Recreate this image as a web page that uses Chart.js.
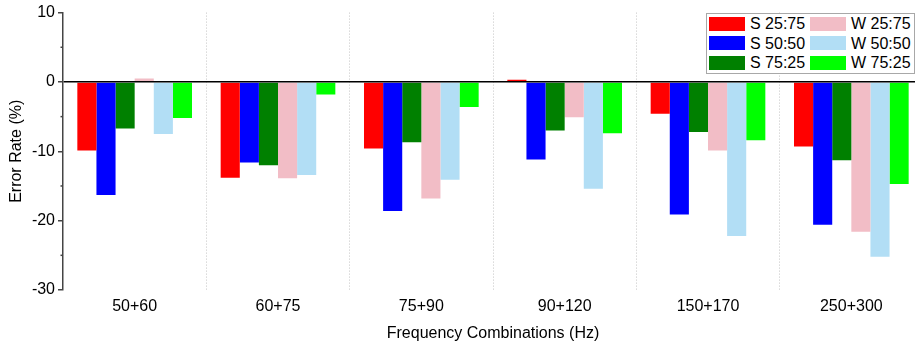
<!DOCTYPE html>
<html>
<head>
<meta charset="utf-8">
<script src="https://cdn.jsdelivr.net/npm/chart.js@4.4.1/dist/chart.umd.min.js"></script>
<style>
  body { margin: 0; overflow: hidden; background: #fff; }
  #wrap { position: relative; width: 925px; height: 342px; }
  #legend {
    position: absolute; left: 706px; top: 13px; width: 207px;
    border: 1px solid #a8a8a8; background: #fff;
    display: grid; grid-template-columns: 101px 1fr;
    font: 16px "Liberation Sans", Arial, sans-serif; color: #000;
  }
  #legend .item { height: 19.5px; line-height: 19.5px; display: flex; align-items: center; padding-left: 2px; }
  #legend .sw { width: 36px; height: 14px; margin-right: 5px; flex: none; }
</style>
</head>
<body>
<div id="wrap">
  <canvas id="chart"></canvas>
  <div id="legend"></div>
</div>
<script>
// data
const categories = ["50+60", "60+75", "75+90", "90+120", "150+170", "250+300"];
const seriesNames = ["S 25:75", "S 50:50", "S 75:25", "W 25:75", "W 50:50", "W 75:25"];
const s2575 = [-9.9, -13.8, -9.6, 0.3, -4.6, -9.3];
const s5050 = [-16.3, -11.6, -18.6, -11.2, -19.1, -20.6];
const s7525 = [-6.7, -12.0, -8.7, -7.0, -7.2, -11.3];
const w2575 = [0.5, -13.9, -16.8, -5.1, -9.9, -21.6];
const w5050 = [-7.5, -13.4, -14.1, -15.4, -22.2, -25.2];
const w7525 = [-5.2, -1.8, -3.6, -7.4, -8.4, -14.7];
const yMin = -30, yMax = 10, yStep = 10;

const seriesValues = [s2575, s5050, s7525, w2575, w5050, w7525];
const seriesColors = ["#ff0000", "#0000ff", "#008000", "#f2bdc6", "#b2def5", "#00ff00"];
const FONT = { family: '"Liberation Sans", Arial, sans-serif', size: 16 };

// short ticks halfway between the labelled ones
const minorTicks = {
  id: "minorTicks",
  afterDraw(chart) {
    const y = chart.scales.y;
    const ctx = chart.ctx;
    ctx.save();
    ctx.strokeStyle = "#444";
    ctx.lineWidth = 1.5;
    for (let v = yMin + yStep / 2; v < yMax; v += yStep) {
      const py = y.getPixelForValue(v);
      ctx.beginPath();
      ctx.moveTo(y.right - 2.5, py);
      ctx.lineTo(y.right, py);
      ctx.stroke();
    }
    ctx.restore();
  }
};

new Chart(document.getElementById("chart"), {
  type: "bar",
  data: {
    labels: categories,
    datasets: seriesValues.map((vals, i) => ({
      label: seriesNames[i],
      data: vals,
      backgroundColor: seriesColors[i],
      borderWidth: 0,
      categoryPercentage: 0.8,
      barPercentage: 1.0
    }))
  },
  options: {
    responsive: true,
    maintainAspectRatio: false,
    animation: false,
    layout: { padding: { top: 10, right: 2, left: 0, bottom: 0 } },
    plugins: { legend: { display: false }, tooltip: { enabled: false } },
    scales: {
      x: {
        grid: { color: "#c4c4c4", lineWidth: 1, drawTicks: false, offset: true },
        border: { display: false, dash: [1, 2] },
        ticks: { font: FONT, color: "#000", padding: 7 },
        title: {
          display: true, text: "Frequency Combinations (Hz)",
          font: FONT, color: "#000", padding: { top: 0, bottom: -1 }
        },
        afterFit(scale) { scale.height = 52; }
      },
      y: {
        min: yMin, max: yMax,
        grid: {
          z: 1,
          color: c => (c.tick && c.tick.value === 0 ? "#000" : "rgba(0,0,0,0)"),
          lineWidth: 1.5, tickColor: "#444", tickWidth: 1.5, tickLength: 5
        },
        border: { display: true, color: "#444", width: 1.5, z: 1 },
        ticks: { stepSize: yStep, font: FONT, color: "#000", padding: 3 },
        title: {
          display: true, text: "Error Rate (%)",
          font: FONT, color: "#000", padding: { top: 7, bottom: 0 }
        },
        afterFit(scale) { scale.width = 63; }
      }
    }
  },
  plugins: [minorTicks]
});

// legend: two columns, S series left, W series right
const legend = document.getElementById("legend");
for (let row = 0; row < 3; row++) {
  [row, row + 3].forEach(i => {
    const item = document.createElement("div");
    item.className = "item";
    const sw = document.createElement("span");
    sw.className = "sw";
    sw.style.background = seriesColors[i];
    item.appendChild(sw);
    item.appendChild(document.createTextNode(seriesNames[i]));
    legend.appendChild(item);
  });
}
</script>
</body>
</html>
